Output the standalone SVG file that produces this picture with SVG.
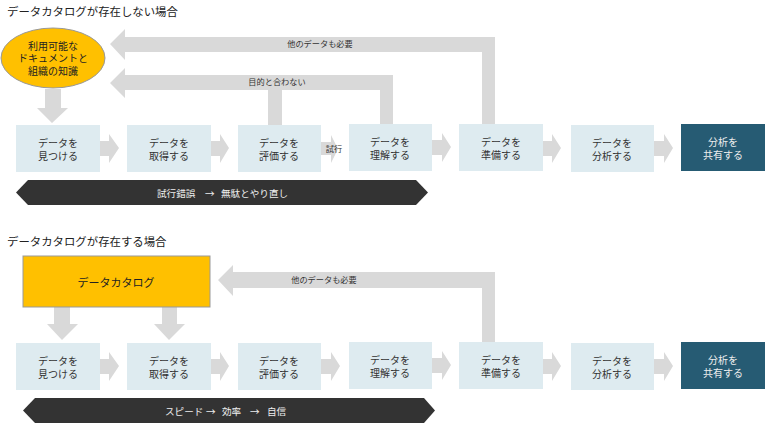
<svg xmlns="http://www.w3.org/2000/svg" width="765" height="423" viewBox="0 0 765 423">
<style>
text{font-family:"Liberation Sans","Noto Sans CJK JP",sans-serif;fill:#333;text-anchor:middle}
.title{font-size:11.4px;fill:#222;text-anchor:start}
.box{fill:#deebf0}
.dark{fill:#265b73}
.arrow{fill:#d9d9d9}
.bar{fill:#333}
.l{font-size:10px}
.s{font-size:8.2px}
.w{fill:#eee}
.c{fill:#222}
.st{text-anchor:start;font-size:9.6px}
.ar{font-family:"Noto Sans CJK JP",sans-serif}
</style>
<rect width="765" height="423" fill="#fff"/>
<text class="title" x="7" y="16">データカタログが存在しない場合</text>
<text class="title" x="7" y="246">データカタログが存在する場合</text>
<g id="connectors">
<path class="arrow" d="M110 44L125 29V37H495V124H482V52H125V60Z"/>
<path class="arrow" d="M110 83L125 68V75H393V125H380V90H282V125H268V90H125V98Z"/>
<path class="arrow" d="M45 89H61V108H68L52 123L37 108H45Z"/>
<path class="arrow" d="M100 141H109V134L119 148L109 163V156H100Z"/>
<path class="arrow" d="M211 141H220V134L229 148L220 163V156H211Z"/>
<path class="arrow" d="M321 142H331V135L338 149L331 163V155H321Z"/>
<path class="arrow" d="M432 140H442V133L451 147L442 162V155H432Z"/>
<path class="arrow" d="M543 141H552V134L561 148L552 163V156H543Z"/>
<path class="arrow" d="M654 141H664V134L673 148L664 163V156H654Z"/>
<path class="arrow" d="M218 280L233 265V272H495V342H482V288H233V296Z"/>
<path class="arrow" d="M54 307H70V324H78L62 340L47 324H54Z"/>
<path class="arrow" d="M162 307H177V324H185L169 340L154 324H162Z"/>
<path class="arrow" d="M100 359H109V352L119 366L109 381V374H100Z"/>
<path class="arrow" d="M211 359H220V352L229 366L220 381V374H211Z"/>
<path class="arrow" d="M321 359H331V352L340 366L331 381V374H321Z"/>
<path class="arrow" d="M432 358H442V351L451 365L442 380V373H432Z"/>
<path class="arrow" d="M543 359H552V352L561 366L552 381V374H543Z"/>
<path class="arrow" d="M654 359H664V352L673 366L664 381V374H654Z"/>
<text class="s" x="320" y="47">他のデータも必要</text>
<text class="s" x="277" y="85">目的と合わない</text>
<text class="s" x="334" y="152">試行</text>
<text class="s" x="324" y="283">他のデータも必要</text>
</g>
<g id="source"><ellipse cx="53" cy="58" rx="52" ry="30" fill="#ffc000" stroke="#999" stroke-width="1"/>
<text class="l c"><tspan x="53" y="50">利用可能な</tspan><tspan x="53" y="62">ドキュメントと</tspan><tspan x="53" y="75">組織の知識</tspan></text></g>
<g id="a1"><rect class="box" x="16" y="125" width="84" height="47"/><text class="l"><tspan x="58" y="147">データを</tspan><tspan x="58" y="160">見つける</tspan></text></g>
<g id="a2"><rect class="box" x="127" y="125" width="84" height="47"/><text class="l"><tspan x="169" y="147">データを</tspan><tspan x="169" y="160">取得する</tspan></text></g>
<g id="a3"><rect class="box" x="238" y="125" width="83" height="47"/><text class="l"><tspan x="279" y="147">データを</tspan><tspan x="279" y="160">評価する</tspan></text></g>
<g id="a4"><rect class="box" x="349" y="124" width="83" height="47"/><text class="l"><tspan x="390" y="146">データを</tspan><tspan x="390" y="159">理解する</tspan></text></g>
<g id="a5"><rect class="box" x="459" y="124" width="84" height="47"/><text class="l"><tspan x="501" y="146">データを</tspan><tspan x="501" y="159">準備する</tspan></text></g>
<g id="a6"><rect class="box" x="571" y="125" width="83" height="47"/><text class="l"><tspan x="612" y="147">データを</tspan><tspan x="612" y="160">分析する</tspan></text></g>
<g id="a7"><rect class="dark" x="681" y="124" width="84" height="47"/><text class="l w"><tspan x="723" y="146">分析を</tspan><tspan x="723" y="159">共有する</tspan></text></g>
<g id="bar1"><path class="bar" d="M16 192.500L28 180H416L428 192.500L416 205H28Z"/><text class="l w st" y="197"><tspan x="157">試行錯誤</tspan><tspan class="ar" x="205">→</tspan><tspan x="221">無駄とやり直し</tspan></text></g>
<g id="catalog"><rect x="23" y="256" width="187" height="51" fill="#ffc000" stroke="#999" stroke-width="1"/><text class="c" font-size="11px" x="116" y="287">データカタログ</text></g>
<g id="b1"><rect class="box" x="16" y="343" width="84" height="47"/><text class="l"><tspan x="58" y="365">データを</tspan><tspan x="58" y="378">見つける</tspan></text></g>
<g id="b2"><rect class="box" x="127" y="343" width="84" height="47"/><text class="l"><tspan x="169" y="365">データを</tspan><tspan x="169" y="378">取得する</tspan></text></g>
<g id="b3"><rect class="box" x="238" y="343" width="83" height="47"/><text class="l"><tspan x="279" y="365">データを</tspan><tspan x="279" y="378">評価する</tspan></text></g>
<g id="b4"><rect class="box" x="349" y="342" width="83" height="47"/><text class="l"><tspan x="390" y="364">データを</tspan><tspan x="390" y="377">理解する</tspan></text></g>
<g id="b5"><rect class="box" x="459" y="342" width="84" height="47"/><text class="l"><tspan x="501" y="364">データを</tspan><tspan x="501" y="377">準備する</tspan></text></g>
<g id="b6"><rect class="box" x="571" y="343" width="83" height="47"/><text class="l"><tspan x="612" y="365">データを</tspan><tspan x="612" y="378">分析する</tspan></text></g>
<g id="b7"><rect class="dark" x="681" y="342" width="84" height="47"/><text class="l w"><tspan x="723" y="364">分析を</tspan><tspan x="723" y="377">共有する</tspan></text></g>
<g id="bar2"><path class="bar" d="M23 410.500L35 398H424L435 410.500L424 423H35Z"/><text class="l w st" y="415"><tspan x="165">スピード</tspan><tspan class="ar" x="206">→</tspan><tspan x="222">効率</tspan><tspan class="ar" x="250">→</tspan><tspan x="267">自信</tspan></text></g>
</svg>
